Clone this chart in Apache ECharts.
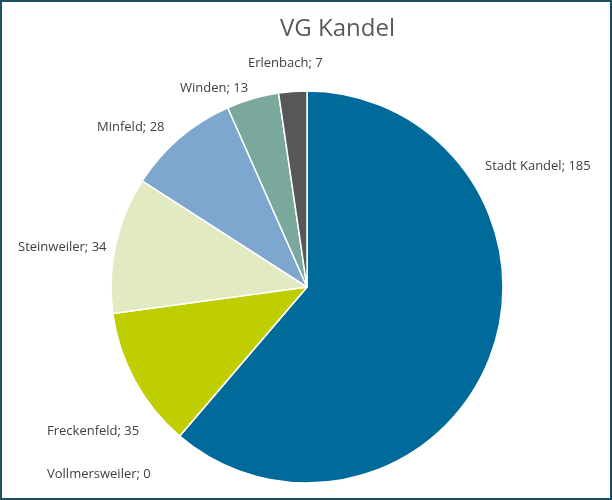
<!DOCTYPE html>
<html>
<head>
<meta charset="utf-8">
<script src="https://cdn.jsdelivr.net/npm/echarts@6/dist/echarts.min.js"></script>
<style>
    html, body { margin: 0; padding: 0; background: #fff; }
    #wrap { position: relative; width: 612px; height: 500px; }
    #chart { position: absolute; left: 0; top: 0; width: 612px; height: 500px; }
    #frame { position: absolute; left: 0; top: 0; width: 612px; height: 500px;
             box-sizing: border-box; border: 2px solid #1d4f62; pointer-events: none; }
</style>
</head>
<body>
<div id="wrap">
    <div id="chart"></div>
    <div id="frame"></div>
</div>
<script>
    // Gemeinden der VG Kandel
    var names = ['Stadt Kandel', 'Vollmersweiler', 'Freckenfeld', 'Steinweiler', 'Minfeld', 'Winden', 'Erlenbach'];
    var values = [185, 0, 35, 34, 28, 13, 7];
    var colors = ['#006a9b', '#006a9b', '#bfce00', '#e2eac2', '#7ea7cf', '#7aa89c', '#575757'];

    // Label-Positionen wie im Excel-Diagramm (linke Kante, Mitte)
    var labelPos = [[485, 166], [47, 474], [47, 431], [18, 247], [97, 127], [180, 88], [248, 63]];

    var chart = echarts.init(document.getElementById('chart'));
    chart.setOption({
        animation: false,
        title: {
            text: 'VG Kandel',
            left: 275,
            top: 12,
            textStyle: { fontFamily: 'Open Sans', fontWeight: 'normal', fontSize: 24, color: '#595959' }
        },
        series: [{
            type: 'pie',
            center: [307, 287],
            radius: 196,
            startAngle: 90,
            clockwise: true,
            avoidLabelOverlap: false,
            data: names.map(function (n, i) {
                return { name: n, value: values[i], itemStyle: { color: colors[i] } };
            }),
            itemStyle: { borderColor: '#fff', borderWidth: 1.5 },
            label: {
                show: true,
                position: 'outside',
                formatter: '{b}; {c}',
                fontFamily: 'Open Sans',
                fontSize: 13,
                color: '#404040'
            },
            labelLine: { show: false },
            labelLayout: function (p) {
                var pos = labelPos[p.dataIndex];
                return { x: pos[0], y: pos[1], align: 'left', verticalAlign: 'middle' };
            }
        }]
    });
</script>
</body>
</html>
